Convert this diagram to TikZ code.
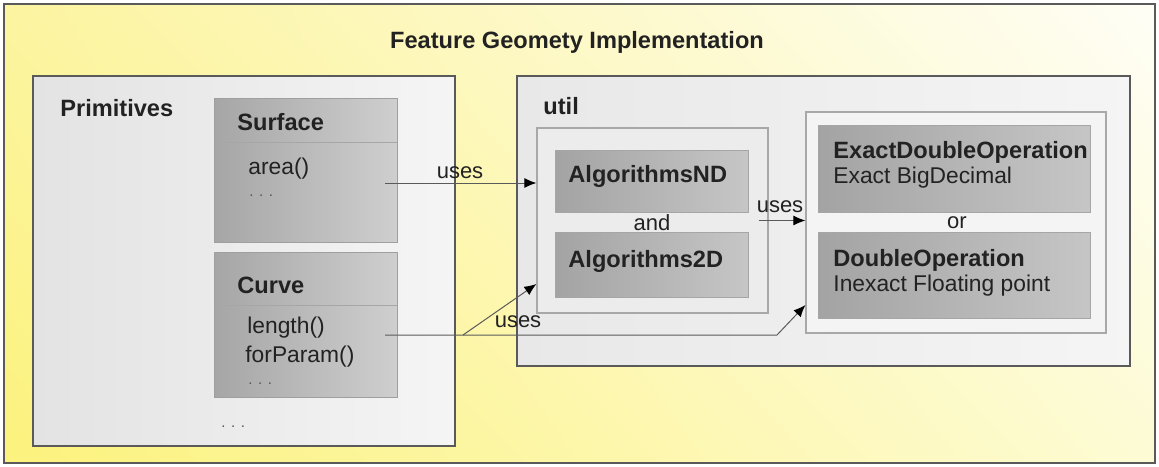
\documentclass[tikz,border=0pt]{standalone}
\usepackage{fontspec}
\setmainfont{Liberation Sans}
\usetikzlibrary{arrows.meta,shadings}

\definecolor{ink}{HTML}{222222}
\definecolor{edgegray}{HTML}{5A5A5A}
\definecolor{softedge}{HTML}{A8A8A8}
\definecolor{dotgray}{HTML}{555555}
\definecolor{yelUL}{RGB}{252,244,160}
\definecolor{yelLL}{RGB}{252,242,125}
\definecolor{yelUR}{RGB}{254,254,246}
\definecolor{yelLR}{RGB}{253,251,212}

\tikzset{
  pane/.style={draw=edgegray,line width=0.8pt,left color=#1,right color=white!96!black},
  groupbox/.style={draw=softedge,line width=0.6pt,fill=#1},
  classbox/.style={draw=gray!75,line width=0.5pt,left color=gray!70,right color=gray!38},
  algbox/.style={draw=gray!70,line width=0.5pt,left color=gray!72,right color=gray!45},
  nametext/.style={font=\fontsize{11.8}{14}\selectfont\bfseries,text=ink,inner sep=0pt,anchor=west},
  bodytext/.style={font=\fontsize{11.4}{14}\selectfont,text=ink,inner sep=0pt,anchor=west},
  smalltext/.style={font=\fontsize{11}{13}\selectfont,text=ink,inner sep=0pt},
  moretext/.style={font=\fontsize{7.5}{8}\selectfont,text=dotgray,inner sep=0pt,anchor=west},
  usesarrow/.style={draw=edgegray,line width=0.5pt,-{Latex[length=6pt,width=5pt,color=black]}}
}

\begin{document}
\begin{tikzpicture}[x=0.5pt,y=-0.5pt]
  \useasboundingbox (0,0) rectangle (1159,466);
  % yellow backdrop
  \shade[upper left=yelUL,lower left=yelLL,upper right=yelUR,lower right=yelLR]
    (4,4) rectangle (1155,463);
  \draw[edgegray,line width=1pt] (4,4) rectangle (1155,463);

  \node[nametext,anchor=center] (title) at (577,42) {Feature Geomety Implementation};

  % Primitives package
  \node[pane=gray!22,minimum width=211pt,minimum height=185pt] (prim) at (244,261) {};
  \node[nametext] (primname) at (60,108) {Primitives};

  \node[classbox,minimum width=91.5pt,minimum height=72pt] (surface) at (305.5,170) {};
  \draw[gray!70,line width=0.5pt] (surface.west |- 0,142) -- (surface.east |- 0,142);
  \node[nametext] (surfacename) at (237,122) {Surface};
  \node[bodytext] (area) at (248,169) {area()};
  \node[moretext] (surfacemore) at (249,196) {. . .};

  \node[classbox,minimum width=91.5pt,minimum height=72.5pt] (curve) at (305.5,324.5) {};
  \draw[gray!70,line width=0.5pt] (curve.west |- 0,305) -- (curve.east |- 0,305);
  \node[nametext] (curvename) at (237,285) {Curve};
  \node[bodytext] (length) at (247,328) {length()};
  \node[bodytext] (forparam) at (245,357) {forParam()};
  \node[moretext] (curvemore) at (248,384) {. . .};

  \node[moretext] (primmore) at (221,427) {. . .};

  % util package
  \node[pane=gray!18,minimum width=306.5pt,minimum height=145pt] (util) at (823.5,221) {};
  \node[nametext] (utilname) at (543,106) {util};

  \node[groupbox=gray!15,minimum width=115.5pt,minimum height=92.5pt] (algos) at (652.5,220.5) {};
  \node[algbox,minimum width=96.5pt,minimum height=31pt] (algnd) at (651.5,181) {};
  \node[nametext] (algndname) at (568,176) {AlgorithmsND};
  \node[smalltext] (andword) at (652,223) {and};
  \node[algbox,minimum width=96.5pt,minimum height=32.5pt] (alg2d) at (651.5,264.5) {};
  \node[nametext] (alg2dname) at (568,261) {Algorithms2D};

  \node[groupbox=gray!9,minimum width=150pt,minimum height=110.5pt] (ops) at (956,222.5) {};
  \node[algbox,minimum width=136pt,minimum height=43.5pt] (exact) at (954,168.5) {};
  \node[nametext] (exactname) at (833,152) {ExactDoubleOperation};
  \node[bodytext] (exactnote) at (833,178) {Exact BigDecimal};
  \node[smalltext] (orword) at (957,223) {or};
  \node[algbox,minimum width=136pt,minimum height=43pt] (dbl) at (954,275) {};
  \node[nametext] (dblname) at (833,260) {DoubleOperation};
  \node[bodytext] (dblnote) at (833,286) {Inexact Floating point};

  % uses connectors
  \coordinate (s1) at (385,183);
  \draw[usesarrow] (s1) -- (s1 -| algos.west);
  \node[smalltext] (uses1) at (460,173) {uses};

  \coordinate (c1) at (385,335);
  \coordinate (c2) at (463,335);
  \coordinate (c3) at (777,335);
  \draw[usesarrow] (c1) -- (c2) -- (algos.west |- 0,284);
  \draw[usesarrow] (c2) -- (c3) -- (ops.west |- 0,305);
  \node[smalltext] (uses3) at (518,322) {uses};

  \draw[usesarrow] ([xshift=-5pt]algos.east) -- (ops.west |- algos.east);
  \node[smalltext] (uses2) at (780,207) {uses};
\end{tikzpicture}
\end{document}
